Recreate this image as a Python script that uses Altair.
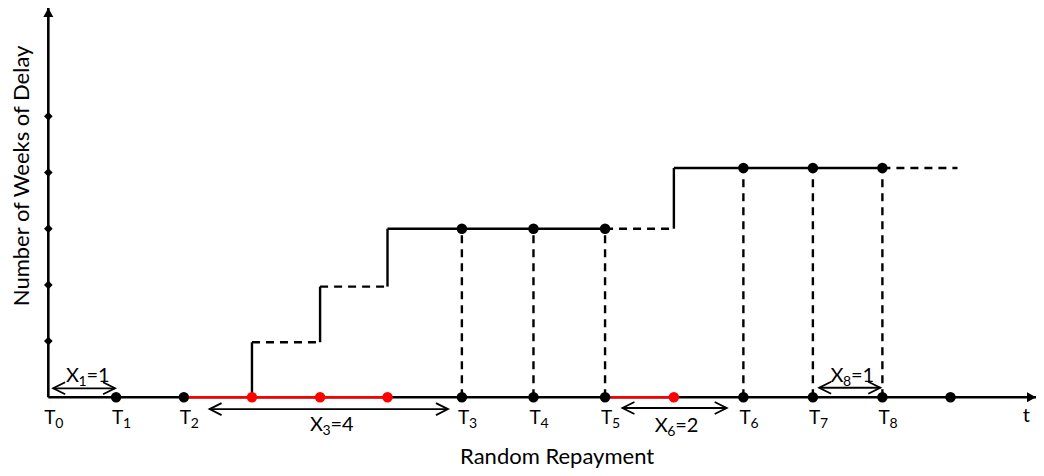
import altair as alt
import pandas as pd

# ---------------- data (diagram units: x = weeks along time axis, y = weeks of delay) -------------
t_subs = ["0", "1", "2", "3", "4", "5", "6", "7", "8"]
t_pos = [0.0, 0.975, 1.95, 5.95, 6.98, 8.01, 10.0, 11.0, 12.0]

axis_dots_x = [0.975, 1.95, 5.95, 6.98, 8.01, 10.0, 11.0, 12.0, 12.98]
red_dots_x = [2.93, 3.91, 4.88, 9.0]
red_seg_x = [1.95, 8.01]
red_seg_x2 = [4.88, 9.0]

delay_ticks = [1, 2, 3, 4, 5]

# delay path, solid parts
solid_x = [2.93, 3.91, 4.88, 4.88, 9.0, 9.0]
solid_y = [0.0, 0.98, 1.97, 3.0, 3.0, 4.08]
solid_x2 = [2.93, 3.91, 4.88, 8.01, 9.0, 12.0]
solid_y2 = [0.98, 1.97, 3.0, 3.0, 4.08, 4.08]

# delay path, dashed parts and drop lines
dash_x = [2.93, 3.91, 8.01, 12.0, 5.95, 6.98, 8.01, 10.0, 11.0, 12.0]
dash_y = [0.98, 1.97, 3.0, 4.08, 0.0, 0.0, 0.0, 0.0, 0.0, 0.0]
dash_x2 = [3.91, 4.88, 9.0, 13.08, 5.95, 6.98, 8.01, 10.0, 11.0, 12.0]
dash_y2 = [0.98, 1.97, 3.0, 4.08, 3.0, 3.0, 3.0, 4.08, 4.08, 4.08]

level_dots_x = [5.95, 6.98, 8.01, 10.0, 11.0, 12.0]
level_dots_y = [3.0, 3.0, 3.0, 4.08, 4.08, 4.08]

# interarrival intervals (double arrows)
iv_sub = ["1", "3", "6", "8"]
iv_val = ["=1", "=4", "=2", "=1"]
iv_x = [0.07, 2.32, 8.26, 11.09]
iv_x2 = [0.96, 5.75, 9.76, 11.97]
iv_y = [0.16, -0.21, -0.19, 0.17]
iv_lab_x = [0.57, 4.08, 9.04, 11.57]
iv_lab_y = [0.27, -0.60, -0.61, 0.27]

T_LABEL_Y = -0.475

X_MIN, X_MAX = -0.58, 14.21
Y_MIN, Y_MAX = -1.258, 6.927

FONT = "Lato, 'Noto Sans', 'DejaVu Sans', sans-serif"

# ---------------- chart ----------------
xs = alt.Scale(domain=[X_MIN, X_MAX], nice=False, zero=False)
ys = alt.Scale(domain=[Y_MIN, Y_MAX], nice=False, zero=False)


def X(f="x"):
    return alt.X(f"{f}:Q", scale=xs, axis=None)


def Y(f="y"):
    return alt.Y(f"{f}:Q", scale=ys, axis=None)


axes_df = pd.DataFrame({"x": [0.0, 0.0], "y": [0.0, 0.0], "x2": [X_MAX, 0.0], "y2": [0.0, Y_MAX]})
axes = alt.Chart(axes_df).mark_rule(color="black", strokeWidth=2.6).encode(
    x=X(), y=Y(), x2="x2:Q", y2="y2:Q")

heads_df = pd.DataFrame({"x": [X_MAX, 0.0], "y": [0.0, Y_MAX],
                         "shape": ["M0,0L-1.8,-1L-1.8,1Z", "M0,0L1,1.8L-1,1.8Z"]})
heads = alt.Chart(heads_df).mark_point(filled=True, color="black", size=100, opacity=1).encode(
    x=X(), y=Y(), shape=alt.Shape("shape:N", scale=None))

ticks_df = pd.DataFrame({"x": [0.0] * len(delay_ticks), "y": delay_ticks})
ticks = alt.Chart(ticks_df).mark_point(shape="diamond", filled=True, color="black", size=75, opacity=1).encode(
    x=X(), y=Y())

red_df = pd.DataFrame({"x": red_seg_x, "x2": red_seg_x2, "y": [0.0, 0.0]})
red_line = alt.Chart(red_df).mark_rule(color="#ff0000", strokeWidth=2.6).encode(x=X(), x2="x2:Q", y=Y())

solid_df = pd.DataFrame({"x": solid_x, "y": solid_y, "x2": solid_x2, "y2": solid_y2})
solid = alt.Chart(solid_df).mark_rule(color="black", strokeWidth=2.4).encode(
    x=X(), y=Y(), x2="x2:Q", y2="y2:Q")

dash_df = pd.DataFrame({"x": dash_x, "y": dash_y, "x2": dash_x2, "y2": dash_y2})
dashed = alt.Chart(dash_df).mark_rule(color="black", strokeWidth=2.4, strokeDash=[8, 6]).encode(
    x=X(), y=Y(), x2="x2:Q", y2="y2:Q")

adots_df = pd.DataFrame({"x": axis_dots_x + level_dots_x, "y": [0.0] * len(axis_dots_x) + level_dots_y})
adots = alt.Chart(adots_df).mark_circle(color="black", size=110, opacity=1).encode(x=X(), y=Y())

rdots_df = pd.DataFrame({"x": red_dots_x, "y": [0.0] * len(red_dots_x)})
rdots = alt.Chart(rdots_df).mark_circle(color="#ff0000", size=110, opacity=1).encode(x=X(), y=Y())

iv_df = pd.DataFrame({"x": iv_x, "x2": iv_x2, "y": iv_y, "sub": iv_sub, "val": iv_val,
                      "lx": iv_lab_x, "ly": iv_lab_y, "main": ["X"] * len(iv_x)})
shafts = alt.Chart(iv_df).mark_rule(color="black", strokeWidth=1.8).encode(x=X(), x2="x2:Q", y=Y())
left_heads = alt.Chart(iv_df).mark_point(shape="M2,-1L0,0L2,1", filled=False, color="black",
                                         size=144, strokeWidth=1.8, opacity=1).encode(x=X(), y=Y())
right_heads = alt.Chart(iv_df).mark_point(shape="M-2,-1L0,0L-2,1", filled=False, color="black",
                                          size=144, strokeWidth=1.8, opacity=1).encode(x=X("x2"), y=Y())
iv_text_x = alt.Chart(iv_df).mark_text(font=FONT, fontSize=20, color="black", align="left",
                                       baseline="alphabetic", dx=-22).encode(
    x=X("lx"), y=Y("ly"), text="main:N")
iv_text_sub = alt.Chart(iv_df).mark_text(font=FONT, fontSize=14, color="black", align="left",
                                         baseline="alphabetic", dx=-9.5, dy=4).encode(
    x=X("lx"), y=Y("ly"), text="sub:N")
iv_text_val = alt.Chart(iv_df).mark_text(font=FONT, fontSize=20, color="black", align="left",
                                         baseline="alphabetic", dx=-1.5).encode(
    x=X("lx"), y=Y("ly"), text="val:N")

tl_df = pd.DataFrame({"x": t_pos, "y": [T_LABEL_Y] * len(t_pos), "sub": t_subs, "main": ["T"] * len(t_pos)})
t_text = alt.Chart(tl_df).mark_text(font=FONT, fontSize=19, color="black", align="left",
                                    baseline="alphabetic", dx=-4).encode(x=X(), y=Y(), text="main:N")
t_text_sub = alt.Chart(tl_df).mark_text(font=FONT, fontSize=14, color="black", align="left",
                                        baseline="alphabetic", dx=7, dy=4).encode(x=X(), y=Y(), text="sub:N")

misc_df = pd.DataFrame({"x": [14.07], "y": [-0.33], "label": ["t"]})
t_axis_label = alt.Chart(misc_df).mark_text(font=FONT, fontSize=20, color="black", baseline="middle").encode(
    x=X(), y=Y(), text="label:N")

xt_df = pd.DataFrame({"x": [7.32], "y": [-1.19], "label": ["Random Repayment"]})
x_title = alt.Chart(xt_df).mark_text(font=FONT, fontSize=22, color="black", baseline="alphabetic").encode(
    x=X(), y=Y(), text="label:N")

yt_df = pd.DataFrame({"x": [-0.38], "y": [3.94], "label": ["Number of Weeks of Delay"]})
y_title = alt.Chart(yt_df).mark_text(font=FONT, fontSize=22, color="black", baseline="middle",
                                     angle=270).encode(x=X(), y=Y(), text="label:N")

chart = alt.layer(
    axes, red_line, heads, ticks, solid, dashed, adots, rdots,
    shafts, left_heads, right_heads, iv_text_x, iv_text_sub, iv_text_val,
    t_text, t_text_sub, t_axis_label, x_title, y_title
).properties(
    width=1028, height=460, padding=0, autosize=alt.AutoSizeParams(type="none"),
    background="white"
).configure_view(stroke=None)

chart.save("out.html", embed_options={"renderer": "svg", "actions": False})
